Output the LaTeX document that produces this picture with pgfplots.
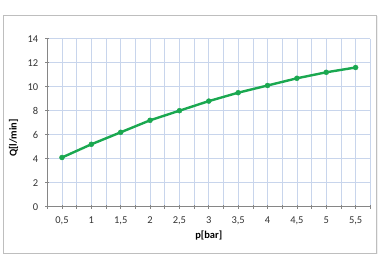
\documentclass[border=0pt]{standalone}
\usepackage{fontspec}
\setmainfont{Carlito}
\usepackage{pgfplots}
\pgfplotsset{compat=1.18}
\definecolor{gridc}{RGB}{200,213,236}
\definecolor{axc}{RGB}{134,134,134}
\definecolor{linec}{RGB}{26,168,80}
\definecolor{framec}{RGB}{190,190,190}
\begin{document}
\begin{tikzpicture}
\useasboundingbox (0,0) rectangle (380bp,272bp);
\fill[white] (0,0) rectangle (380bp,272bp);
\fill[black!6] (4bp,18bp) rectangle (378bp,256bp);
\draw[framec, fill=white] (3bp,19bp) rectangle (376.5bp,257bp);
\begin{axis}[
  at={(47.3bp,65.3bp)}, anchor=south west,
  scale only axis, width=323bp, height=168bp,
  xmin=0.25, xmax=5.75, ymin=0, ymax=14,
  xtick={0.5,1,1.5,2,2.5,3,3.5,4,4.5,5,5.5},
  minor xtick={0.25,0.75,...,5.75},
  ytick={0,2,...,14},
  xticklabels={{0,5},1,{1,5},2,{2,5},3,{3,5},4,{4,5},5,{5,5}},
  grid=both,
  major grid style={gridc, line width=0.6bp},
  minor grid style={gridc, line width=0.6bp},
  axis x line*=bottom, axis y line*=left,
  axis line style={axc, line width=0.6bp},
  tick style={axc, line width=0.6bp},
  major tick length=4bp, minor tick length=4bp,
  tick align=center,
  every tick label/.append style={font=\fontsize{10.5}{12}\selectfont, text=black!80},
  /pgf/number format/assume math mode=true,
  yticklabel style={anchor=east, xshift=-3.5bp},
  xticklabel style={anchor=north, yshift=-4.5bp},
  xlabel={\textbf{p[bar]}},
  ylabel={\textbf{Q[l/min]}},
  every axis label/.append style={font=\fontsize{10.5}{12}\selectfont, text=black},
  xlabel style={at={(axis description cs:0.5,0)}, anchor=center, yshift=-29bp},
  ylabel style={at={(axis description cs:-0.1046,0.409)}, anchor=center},
  clip=false,
]
\addplot[linec, line width=2.4bp, mark=*, mark size=2.5bp, mark options={fill=linec, draw=linec, line width=0.4bp}]
  coordinates {(0.5,4.1)(1,5.2)(1.5,6.2)(2,7.2)(2.5,8.0)(3,8.8)(3.5,9.5)(4,10.1)(4.5,10.7)(5,11.2)(5.5,11.6)};
\end{axis}
\end{tikzpicture}
\end{document}
